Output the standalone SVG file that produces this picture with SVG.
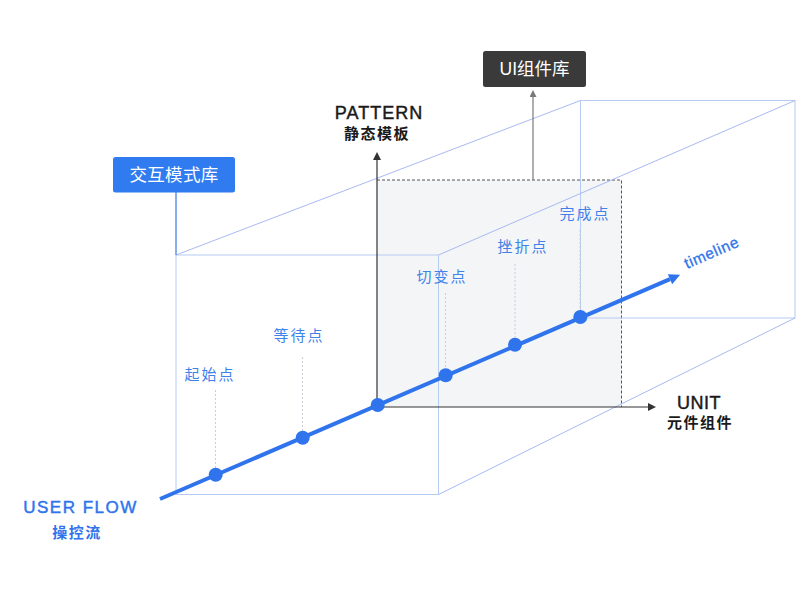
<svg xmlns="http://www.w3.org/2000/svg" width="806" height="608" viewBox="0 0 806 608">
<defs>
<style>
.edge{fill:none;stroke:#b6cbf3;stroke-width:1}
.diag{fill:none;stroke:#a9b9f2;stroke-width:1}
.lead{fill:none;stroke:#c9ced6;stroke-width:1;stroke-dasharray:2 2}
.lbl{font-family:"Liberation Sans","Noto Sans CJK SC",sans-serif;font-size:15px;fill:#3f82ea;letter-spacing:2px;text-anchor:middle;dominant-baseline:central}
.ax{font-family:"Liberation Sans","Noto Sans CJK SC",sans-serif;text-anchor:middle;dominant-baseline:central}
.heavy{stroke-width:0.45px;paint-order:stroke}
.dot{fill:#2f74ec}
</style>
<marker id="ahDark" viewBox="0 0 10 10" refX="0" refY="5" markerWidth="9" markerHeight="8" markerUnits="userSpaceOnUse" orient="auto"><path d="M0,0 L10,5 L0,10 z" fill="#333"/></marker>
<marker id="ahGray" viewBox="0 0 10 10" refX="0" refY="5" markerWidth="8" markerHeight="7" markerUnits="userSpaceOnUse" orient="auto"><path d="M0,0 L10,5 L0,10 z" fill="#7a7a7a"/></marker>
<marker id="ahBlue" viewBox="0 0 10 10" refX="0" refY="5" markerWidth="12" markerHeight="11" markerUnits="userSpaceOnUse" orient="auto"><path d="M0,0 L10,5 L0,10 z" fill="#2f74ec"/></marker>
</defs>
<rect width="806" height="608" fill="#ffffff"/>

<g id="pattern-region">
<rect x="377" y="180" width="245" height="227" fill="#f4f5f7"/>
<path d="M377,180 H621.5 V407" fill="none" stroke="#555" stroke-width="1" stroke-dasharray="3 2"/>
</g>

<g id="cube">
<rect class="edge" x="176" y="255" width="262.5" height="239.5"/>
<rect class="edge" x="580.5" y="100.5" width="214.5" height="217.5"/>
<line class="diag" x1="176" y1="255" x2="580.5" y2="100.5"/>
<line class="diag" x1="438.5" y1="255" x2="795" y2="100.5"/>
<line class="diag" x1="438.5" y1="494.5" x2="795" y2="318"/>
</g>

<g id="connectors">
<line x1="377" y1="407" x2="377" y2="160" stroke="#333" stroke-width="1.2" marker-end="url(#ahDark)"/>
<line x1="377" y1="407" x2="648" y2="407" stroke="#333" stroke-width="1.2" marker-end="url(#ahDark)"/>
<line x1="533" y1="180" x2="533" y2="97" stroke="#7a7a7a" stroke-width="1.2" marker-end="url(#ahGray)"/>
<line x1="176" y1="192" x2="176" y2="255" stroke="#3a78e0" stroke-width="1.2"/>
<line class="lead" x1="215.5" y1="390" x2="215.5" y2="468"/>
<line class="lead" x1="302.5" y1="357" x2="302.5" y2="431"/>
<line class="lead" x1="445.5" y1="293" x2="445.5" y2="368"/>
<line class="lead" x1="515" y1="264" x2="515" y2="338"/>
<line class="lead" x1="580" y1="230" x2="580" y2="310"/>
<line x1="160" y1="499" x2="670" y2="279.2" stroke="#2f74ec" stroke-width="4" marker-end="url(#ahBlue)"/>
</g>

<g id="dots">
<circle class="dot" cx="215.7" cy="474.7" r="7"/>
<circle class="dot" cx="302.7" cy="437.8" r="7"/>
<circle class="dot" cx="377.7" cy="405" r="7"/>
<circle class="dot" cx="445.7" cy="375.3" r="7"/>
<circle class="dot" cx="515" cy="344.8" r="7"/>
<circle class="dot" cx="580.3" cy="317" r="7"/>
</g>

<g id="point-labels">
<text class="lbl" x="210" y="374">起始点</text>
<text class="lbl" x="299" y="335">等待点</text>
<text class="lbl" x="442" y="276">切变点</text>
<text class="lbl" x="523" y="246">挫折点</text>
<text class="lbl" x="585" y="213">完成点</text>
</g>

<g id="timeline-label">
<text x="0" y="0" transform="translate(687,269) rotate(-23.4)" font-family="'Liberation Sans','Noto Sans CJK SC',sans-serif" font-size="15.5px" fill="#2f74ec" stroke="#2f74ec" stroke-width="0.3" letter-spacing="0.6">timeline</text>
</g>

<g id="node-interaction-lib">
<rect x="113" y="157" width="122" height="35.5" rx="2.5" fill="#2f7bef"/>
<text class="ax" x="174" y="175" font-size="17.5px" fill="#ffffff" letter-spacing="0.3">交互模式库</text>
</g>

<g id="node-ui-lib">
<rect x="483" y="51" width="103" height="36" rx="2.5" fill="#3a3a3a"/>
<text class="ax" x="534.5" y="69" font-size="17.5px" fill="#ffffff">UI组件库</text>
</g>

<g id="axis-pattern">
<text class="ax heavy" x="379" y="113" font-size="18px" fill="#1a1a1a" stroke="#1a1a1a" letter-spacing="1">PATTERN</text>
<text class="ax" x="377" y="133" font-size="15px" font-weight="bold" fill="#1a1a1a" letter-spacing="1.5">静态模板</text>
</g>

<g id="axis-unit">
<text class="ax heavy" x="699" y="403" font-size="18px" fill="#1a1a1a" stroke="#1a1a1a" letter-spacing="0.5">UNIT</text>
<text class="ax" x="700" y="422" font-size="15px" font-weight="bold" fill="#1a1a1a" letter-spacing="1.5">元件组件</text>
</g>

<g id="axis-userflow">
<text class="ax heavy" x="80.5" y="507" font-size="17px" fill="#2f74ec" stroke="#2f74ec" letter-spacing="1.5">USER FLOW</text>
<text class="ax" x="77" y="532" font-size="15px" font-weight="bold" fill="#2f74ec" letter-spacing="1.5">操控流</text>
</g>
</svg>
